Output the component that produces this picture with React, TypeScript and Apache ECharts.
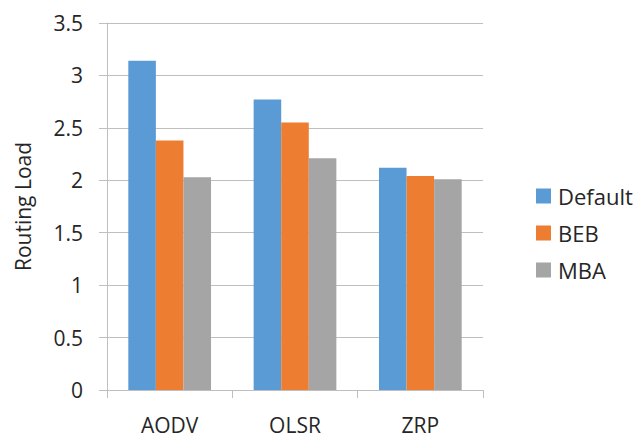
import React, { useEffect, useRef } from "react";
import * as echarts from "echarts";

const categories = ["AODV", "OLSR", "ZRP"];
const seriesNames = ["Default", "BEB", "MBA"];
const defaultValues = [3.14, 2.77, 2.12];
const bebValues = [2.38, 2.55, 2.04];
const mbaValues = [2.03, 2.21, 2.01];
const colors = ["#5B9BD5", "#ED7D31", "#A5A5A5"];

const FONT = "'Open Sans', sans-serif";
const TXT = "#262626";

export default function App() {
  const ref = useRef<HTMLDivElement>(null);
  useEffect(() => {
    if (!ref.current) return;
    const chart = echarts.init(ref.current, null, { renderer: "svg" });
    const values = [defaultValues, bebValues, mbaValues];
    chart.setOption({
      animation: false,
      backgroundColor: "#ffffff",
      grid: { left: 107, right: 155, top: 23, bottom: 47, containLabel: false },
      legend: {
        orient: "vertical",
        left: 531,
        top: 180,
        itemWidth: 15,
        itemHeight: 15,
        itemGap: 15,
        icon: "rect",
        textStyle: { fontFamily: FONT, fontSize: 22, color: TXT, padding: [0, 0, 0, 2] },
        data: seriesNames,
      },
      xAxis: {
        type: "category",
        data: categories,
        axisLine: { show: true, lineStyle: { color: "#BFBFBF", width: 1 } },
        axisTick: { show: true, length: 8, alignWithLabel: false, lineStyle: { color: "#BFBFBF" } },
        axisLabel: { margin: 24, fontFamily: FONT, fontSize: 21, color: TXT },
        splitLine: { show: false },
      },
      yAxis: {
        type: "value",
        min: 0,
        max: 3.5,
        interval: 0.5,
        name: "Routing Load",
        nameLocation: "middle",
        nameRotate: 90,
        nameGap: 74,
        nameTextStyle: { fontFamily: FONT, fontSize: 21, color: TXT },
        axisLine: { show: true, lineStyle: { color: "#BFBFBF", width: 1 } },
        axisTick: { show: true, length: 8, lineStyle: { color: "#BFBFBF" } },
        axisLabel: { margin: 24, fontFamily: FONT, fontSize: 21, color: TXT },
        splitLine: { show: true, lineStyle: { color: "#BFBFBF", width: 1 } },
      },
      series: seriesNames.map((name, i) => ({
        name,
        type: "bar",
        data: values[i],
        barGap: "0%",
        barCategoryGap: "34%",
        itemStyle: { color: colors[i] },
      })),
    });
    return () => chart.dispose();
  }, []);
  return <div ref={ref} style={{ width: 638, height: 437, position: "absolute", left: 0, top: 0 }} />;
}
